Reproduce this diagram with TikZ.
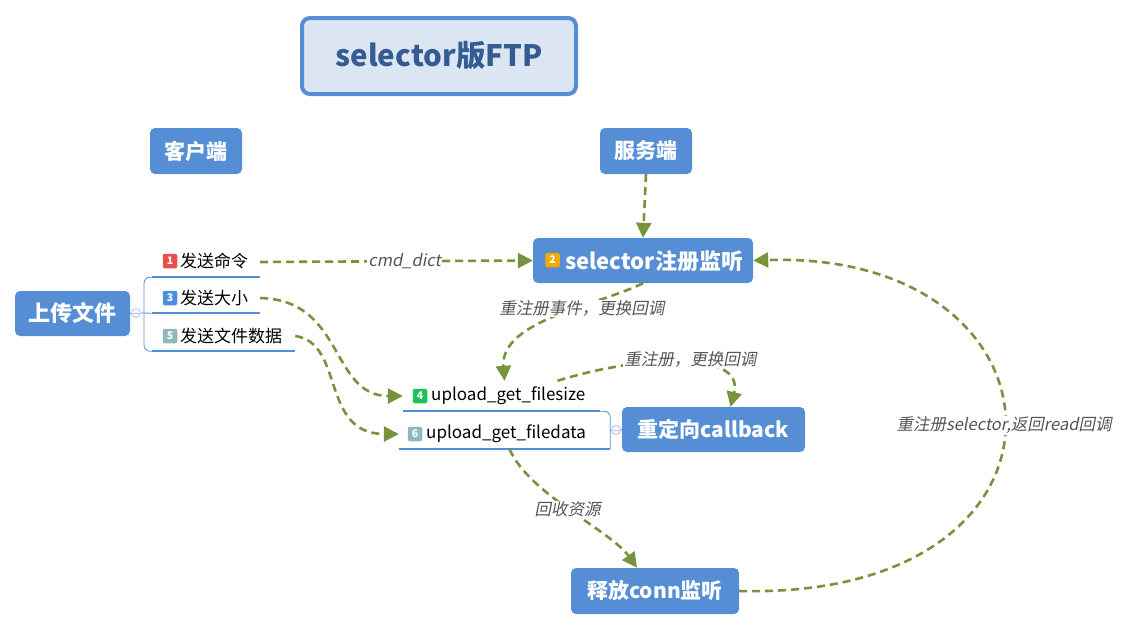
\documentclass[tikz,border=0pt]{standalone}
\usepackage{fontspec}
\setmainfont{Noto Sans CJK SC}[AutoFakeSlant=0.2]
\usetikzlibrary{arrows.meta}
\definecolor{boxblue}{HTML}{558ED5}
\definecolor{olive}{HTML}{77933C}
\definecolor{titlefill}{HTML}{DCE6F2}
\definecolor{titletext}{HTML}{345C92}
\definecolor{lblgray}{HTML}{555555}
\definecolor{knobblue}{HTML}{A9C1EA}
\definecolor{mred}{HTML}{E8504C}
\definecolor{mblue}{HTML}{4A90E2}
\definecolor{morange}{HTML}{F5A800}
\definecolor{mgreen}{HTML}{1DC25A}
\definecolor{mteal}{HTML}{8EB8C0}
\begin{document}
\begin{tikzpicture}[x=1pt,y=-1pt,
  topic/.style={rectangle, rounded corners=5pt, fill=boxblue, text=white,
    font=\fontsize{21}{24}\selectfont\bfseries, inner sep=0, align=center},
  slot/.style={rectangle, inner sep=0, minimum height=30pt},
  subtext/.style={anchor=west, inner sep=0, font=\fontsize{17}{19}\selectfont},
  marker/.style={rectangle, rounded corners=2pt, minimum size=14.5pt, inner sep=0,
    text=white, font=\fontsize{10.5}{11}\selectfont\bfseries},
  underline/.style={draw=boxblue, line width=2.5pt},
  branch/.style={draw=boxblue, line width=0.8pt},
  knob/.style={circle, draw=knobblue, fill=white, minimum size=9pt, inner sep=0, line width=0.8pt},
  conn/.style={draw=olive, line width=2.6pt, dash pattern=on 8pt off 5pt,
    -{Triangle[length=15pt,width=15pt]}},
  lbl/.style={font=\fontsize{16.5}{18}\selectfont\itshape, text=lblgray, fill=white, inner sep=1pt}
]
\useasboundingbox (0,0) rectangle (1139,630);

% title
\node[rectangle, rounded corners=8pt, draw=boxblue, line width=4pt, fill=titlefill,
  minimum width=274pt, minimum height=76pt, text=titletext,
  font=\fontsize{29.5}{31}\selectfont\bfseries] (title) at (439,56) {selector版FTP};

% main topics
\node[topic, minimum width=92pt, minimum height=46pt] (client) at (196,151) {客户端};
\node[topic, minimum width=92pt, minimum height=46pt] (server) at (646,151) {服务端};
\node[topic, minimum width=115pt, minimum height=45pt, font=\fontsize{22}{24}\selectfont\bfseries] (upload) at (72.5,313.5) {上传文件};
\node[topic, minimum width=220pt, minimum height=45pt] (sel) at (643,260.5) {};
\node[marker, fill=morange] (m2) at (552.5,260) {2};
\node[subtext, text=white, font=\fontsize{22}{24}\selectfont\bfseries] (seltext) at (565,261) {selector注册监听};
\node[topic, minimum width=183pt, minimum height=45pt] (redirect) at (713.5,429.5) {重定向callback};
\node[topic, minimum width=168pt, minimum height=46pt] (release) at (655,591) {释放conn监听};

% client subtopics
\node[slot, minimum width=108pt] (s1) at (206,262) {};
\node[slot, minimum width=108pt] (s3) at (206,298) {};
\node[slot, minimum width=143pt] (s5) at (223.5,336) {};
\node[marker, fill=mred] (m1) at (170,261) {1};
\node[subtext] (t1) at (180,261) {发送命令};
\node[marker, fill=mblue] (m3) at (170,298) {3};
\node[subtext] (t3) at (180,298) {发送大小};
\node[marker, fill=mteal] (m5) at (170,336) {5};
\node[subtext] (t5) at (180,336) {发送文件数据};
\draw[underline] (s1.south west) -- (s1.south east);
\draw[underline] (s3.south west) -- (s3.south east);
\draw[underline] (s5.south west) -- (s5.south east);
\draw[branch, rounded corners=6pt] (s1.south west) -| (s5.south west -| 144,0) -- (s5.south west);
\node[knob] (k1) at (136,313) {};
\draw[branch] (upload.east) -- (k1.west);
\draw[branch] (k1.east) -- (s3.south west);
\draw[knobblue, line width=0.8pt] ([xshift=2pt]k1.west) -- ([xshift=-2pt]k1.east);

% server subtopics
\node[slot, minimum width=197pt] (fs) at (501.5,396) {};
\node[slot, minimum width=211pt] (fd) at (504.5,434) {};
\node[marker, fill=mgreen] (m4) at (420,396) {4};
\node[subtext] (tfs) at (431,396) {upload\_get\_filesize};
\node[marker, fill=mteal] (m6) at (415,434) {6};
\node[subtext] (tfd) at (426,434) {upload\_get\_filedata};
\draw[underline] (fs.south west) -- (fs.south east);
\draw[underline] (fd.south west) -- (fd.south east);
\draw[branch, rounded corners=6pt] (fs.south east) -| (fd.south east);
\node[knob] (k2) at (616,430) {};
\draw[branch] (k2.west) -- (k2.west -| fd.east);
\draw[branch] (k2.east) -- (redirect.west);
\draw[knobblue, line width=0.8pt] ([xshift=2pt]k2.west) -- ([xshift=-2pt]k2.east);

% connectors
\draw[conn] (server.south) -- (sel.north);
\draw[conn] (s1.east) -- node[lbl, pos=0.53] {cmd\_dict} (sel.west);
\draw[conn] (s3.east) .. controls (345,300) and (330,396) .. (fs.west);
\draw[conn] (s5.east) .. controls (345,343) and (320,434) .. (fd.west);
\draw[conn] (sel.south) .. controls (600,305) and (500,320) .. node[lbl, pos=0.36, yshift=-2pt] {重注册事件，更换回调} ([xshift=3pt]fs.north);
\draw[conn] ([xshift=56pt]fs.north) .. controls (640,355) and (745,350) .. node[lbl, pos=0.55, yshift=5pt] {重注册，更换回调} ([xshift=17pt]redirect.north);
\draw[conn] ([xshift=5pt]fd.south) .. controls (530,495) and (610,530) .. node[lbl, pos=0.48] {回收资源} ([xshift=-18pt]release.north);
\draw[conn] (release.east) .. controls (1100,600) and (1080,250) .. node[lbl, pos=0.5] {重注册selector,返回read回调} (sel.east);
\end{tikzpicture}
\end{document}
